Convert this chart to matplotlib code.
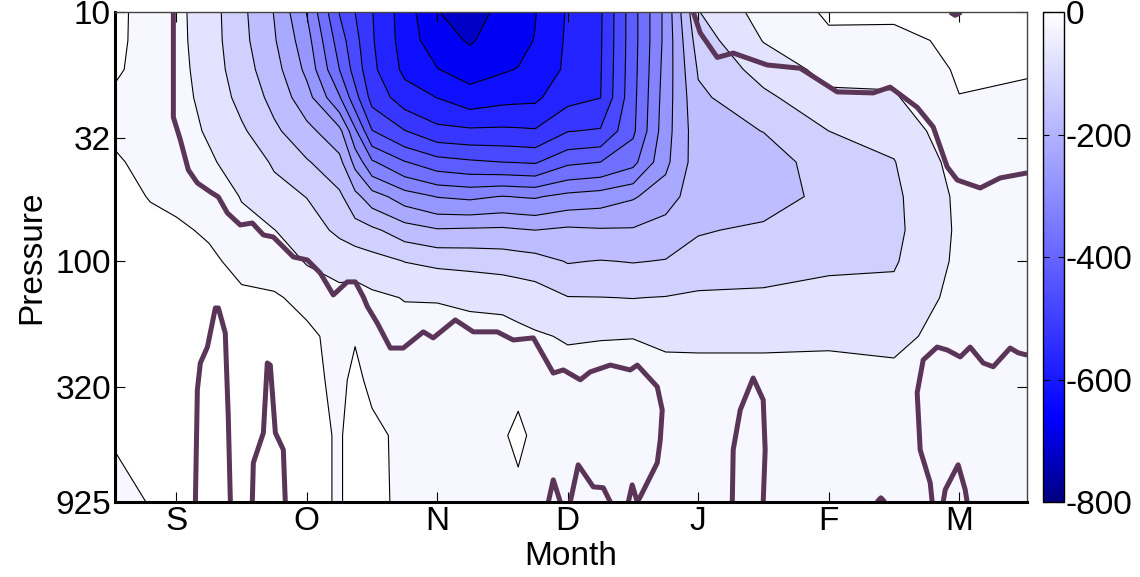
import numpy as np
import matplotlib

matplotlib.use("Agg")
import matplotlib.pyplot as plt
from matplotlib.colors import LinearSegmentedColormap, Normalize
from matplotlib.cm import ScalarMappable
from matplotlib.ticker import NullLocator

plt.rcParams["font.family"] = ["Liberation Sans", "DejaVu Sans"]
plt.rcParams["axes.unicode_minus"] = False

# month axis: S=1 ... M=7
MONTH_TICKS = [1, 2, 3, 4, 5, 6, 7]
MONTH_LABELS = ["S", "O", "N", "D", "J", "F", "M"]
PRESSURE_TICKS = [10, 32, 100, 320, 925]
CBAR_TICKS = [0, -200, -400, -600, -800]

# grid nodes the field was read at
MONTH_NODES = [0.5, 0.8, 1.0, 1.25, 1.5, 1.75, 2.0, 2.25, 2.37, 2.5, 2.75, 3.0, 3.25,
               3.5, 3.62, 3.75, 4.0, 4.25, 4.5, 4.75, 5.0, 5.5, 6.0, 6.5, 7.0, 7.55]
PRESSURE_NODES = [10, 13, 17, 22, 30, 40, 55, 75, 100, 140, 200, 300, 500, 925]

# one row per pressure level, one column per month node
FIELD = [
    [12, -15, -37, -77, -138, -202, -302, -452, -500, -548, -625, -698, -725, -685, -672, -652, -595, -557, -420, -285, -102, -30, 6, 10, 15, 20],
    [12, -16, -36, -76, -135, -195, -280, -425, -485, -545, -622, -680, -705, -675, -665, -648, -592, -556, -420, -285, -125, -48, -8, -15, 12, 12],
    [8, -16, -34, -72, -128, -180, -262, -400, -470, -538, -612, -648, -672, -655, -648, -635, -590, -554, -418, -280, -145, -80, -35, -38, 6, 3],
    [-4, -14, -32, -66, -115, -165, -230, -345, -432, -518, -575, -601, -628, -615, -612, -610, -565, -551, -415, -275, -160, -112, -60, -55, -1, -8],
    [-3, -10, -28, -56, -92, -140, -185, -235, -340, -448, -498, -535, -541, -540, -542, -545, -502, -495, -410, -270, -170, -149, -100, -85, -15, -20],
    [4, -7, -20, -42, -75, -105, -145, -185, -265, -343, -397, -430, -442, -450, -452, -455, -410, -400, -365, -262, -172, -175, -125, -102, -30, -28],
    [8, -1, -8, -26, -52, -85, -101, -140, -185, -227, -275, -302, -310, -298, -302, -305, -285, -275, -255, -225, -168, -175, -135, -110, -40, -30],
    [8, 6, 6, -5, -38, -49, -78, -110, -128, -140, -175, -195, -192, -190, -195, -200, -190, -195, -195, -175, -155, -140, -128, -112, -42, -30],
    [8, 8, 10, 8, -12, -20, -54, -68, -70, -80, -101, -110, -114, -120, -125, -130, -153, -148, -152, -148, -125, -118, -110, -105, -40, -28],
    [8, 8, 10, 10, 8, 5, -12, -35, -30, -40, -52, -52, -57, -60, -65, -72, -98, -99, -101, -98, -93, -92, -82, -85, -35, -25],
    [8, 8, 10, 10, 10, 10, 10, -15, -2, -20, -30, -35, -35, -35, -40, -45, -54, -52, -51, -60, -60, -60, -58, -62, -30, -22],
    [8, 6, 10, 10, 10, 10, 10, -8, 8, -8, -20, -22, -22, -20, -10, -25, -30, -28, -30, -28, -30, -30, -30, -35, -25, -20],
    [1, 2, 10, 10, 10, 10, 10, -3, 12, 10, -10, -12, -12, -5, 10, -10, -18, -18, -18, -18, -18, -18, -18, -18, -15, -15],
    [-8, 1, 8, 10, 10, 10, 10, -3, 12, 12, -10, -15, -15, -15, -15, -15, -20, -20, -20, -20, -20, -18, -18, -18, -15, -12],
]

# thick overlay contour, traced as (month, pressure) paths
OVERLAY_PATHS = [
    ([0.977, 0.977, 1.031, 1.092, 1.161, 1.261, 1.322, 1.391, 1.490, 1.582, 1.667, 1.743, 1.820,
      1.897, 2.004, 2.103, 2.203, 2.310, 2.372, 2.433, 2.464, 2.540, 2.640, 2.739, 2.893, 2.969,
      3.138, 3.276, 3.460, 3.582, 3.736, 3.889, 3.966, 4.096, 4.172, 4.326, 4.479, 4.533, 4.686,
      4.724, 4.709, 4.686, 4.556, 4.533],
     [10, 26.4, 32.6, 43.0, 48.5, 52.7, 55.2, 64.0, 71.5, 70.2, 78.4, 79.9, 87.6,
      96.1, 98.8, 111.4, 136.5, 121, 121, 139, 152, 177, 223, 223, 192, 203,
      172, 192, 192, 207, 203, 281, 273, 299, 278, 261, 273, 261, 319,
      395, 521, 644, 881, 925]),
    ([4.962, 5.015, 5.146, 5.268, 5.529, 5.782, 6.065, 6.341, 6.471, 6.678, 6.801, 6.908, 6.985,
      7.161, 7.314, 7.521],
     [10, 12.1, 15.2, 14.6, 16.3, 16.8, 20.9, 21.1, 20.0, 24.1, 28.9, 41.8, 47.2,
      50.8, 46.3, 44.2]),
    ([7.521, 7.452, 7.391, 7.261, 7.184, 7.084, 7.008, 6.908, 6.831, 6.724, 6.678, 6.701, 6.778, 6.793],
     [238, 233, 223, 265, 256, 221, 242, 227, 221, 249, 337, 571, 775, 925]),
    ([1.146, 1.161, 1.184, 1.238, 1.299, 1.322, 1.375, 1.398, 1.414],
     [925, 328, 256, 221, 154, 154, 194, 421, 925]),
    ([1.582, 1.590, 1.667, 1.697, 1.720, 1.759, 1.820, 1.835],
     [925, 644, 488, 256, 261, 488, 571, 925]),
    ([5.261, 5.268, 5.322, 5.421, 5.498, 5.513, 5.498],
     [925, 571, 395, 294, 360, 571, 925]),
    ([3.851, 3.889, 3.943], [925, 754, 925]),
    ([4.019, 4.080, 4.195, 4.272, 4.326], [925, 656, 804, 811, 925]),
    ([4.464, 4.494, 4.533], [925, 790, 925]),
    ([6.877, 6.893, 6.992, 7.046, 7.061], [925, 826, 656, 826, 925]),
    ([6.370, 6.400, 6.430], [925, 890, 925]),
    ([6.931, 6.969, 7.015], [10, 10.3, 10]),
]

cmap = LinearSegmentedColormap.from_list(
    "wb", [(0.0, (0, 0, 0.5)), (0.17, (0, 0, 1)), (1.0, (1, 1, 1))])
cmap.set_over("white")
norm = Normalize(vmin=-800, vmax=0)

fig = plt.figure(figsize=(11.4, 5.77), dpi=100)
ax = fig.add_axes([0.1009, 0.130, 0.8, 0.849])
cax = fig.add_axes([0.915, 0.130, 0.0184, 0.849])

X, P = np.meshgrid(MONTH_NODES, PRESSURE_NODES)
Z = np.array(FIELD, dtype=float)

ax.contourf(X, P, Z, levels=np.arange(-800, 1, 50), cmap=cmap, norm=norm, extend="max")
ax.contour(X, P, Z, levels=np.arange(-700, 1, 50), colors="black", linewidths=0.8,
           linestyles="solid")

for xs, ps in OVERLAY_PATHS:
    ax.plot(xs, ps, color="#5b3558", lw=3.6, solid_capstyle="butt")

ax.set_yscale("log")
ax.set_ylim(925, 10)
ax.set_xlim(0.53, 7.52)
ax.set_yticks(PRESSURE_TICKS)
ax.set_yticklabels([str(p) for p in PRESSURE_TICKS])
ax.yaxis.set_minor_locator(NullLocator())
ax.set_xticks(MONTH_TICKS)
ax.set_xticklabels(MONTH_LABELS)
ax.tick_params(axis="both", direction="in", labelsize=24, length=7, width=0.8,
               top=True, right=True, pad=3)
ax.set_xlabel("Month", fontsize=24, labelpad=3)
ax.set_ylabel("Pressure", fontsize=24, labelpad=6)

for side in ("left", "bottom"):
    ax.spines[side].set_linewidth(2.2)
for side in ("top", "right"):
    ax.spines[side].set_linewidth(1.0)
    ax.spines[side].set_color("#444444")

sm = ScalarMappable(norm=norm, cmap=cmap)
cb = fig.colorbar(sm, cax=cax, ticks=CBAR_TICKS)
cb.ax.tick_params(direction="in", labelsize=24, length=4, left=True, right=True, pad=1)
cb.outline.set_linewidth(1.0)

fig.savefig("out.png", dpi=100)
